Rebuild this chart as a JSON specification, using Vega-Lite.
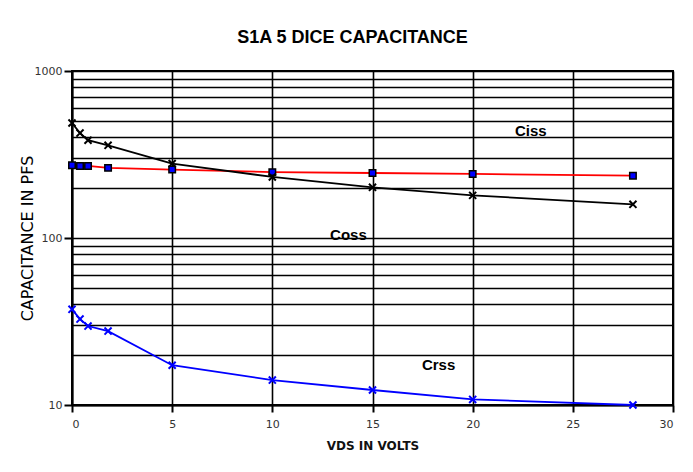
{
  "$schema": "https://vega.github.io/schema/vega-lite/v6.json",
  "width": 601,
  "height": 334,
  "autosize": {"type": "none"},
  "padding": {"left": 72, "top": 71, "right": 20, "bottom": 67},
  "background": "white",
  "title": {
    "text": "S1A 5 DICE CAPACITANCE",
    "font": "Liberation Sans",
    "fontSize": 18,
    "fontWeight": "bold",
    "color": "#000000",
    "anchor": "middle",
    "dx": -20,
    "offset": 18
  },
  "config": {
    "view": {"stroke": "#000000", "strokeWidth": 2},
    "axis": {
      "labelFont": "DejaVu Sans",
      "labelFontSize": 11,
      "labelColor": "#333333",
      "domainColor": "#000000",
      "domainWidth": 2,
      "tickColor": "#000000",
      "tickWidth": 2,
      "gridColor": "#000000",
      "gridWidth": 1.6,
      "gridOpacity": 1
    }
  },
  "datasets": {
    "caps": [
      {"series": "Ciss", "vds": 0, "pf": 273},
      {"series": "Ciss", "vds": 0.4, "pf": 270},
      {"series": "Ciss", "vds": 0.8, "pf": 270},
      {"series": "Ciss", "vds": 1.8, "pf": 263},
      {"series": "Ciss", "vds": 5, "pf": 257},
      {"series": "Ciss", "vds": 10, "pf": 248},
      {"series": "Ciss", "vds": 15, "pf": 245},
      {"series": "Ciss", "vds": 20, "pf": 242},
      {"series": "Ciss", "vds": 28, "pf": 236},
      {"series": "Coss", "vds": 0, "pf": 488},
      {"series": "Coss", "vds": 0.4, "pf": 425},
      {"series": "Coss", "vds": 0.8, "pf": 385},
      {"series": "Coss", "vds": 1.8, "pf": 359},
      {"series": "Coss", "vds": 5, "pf": 279},
      {"series": "Coss", "vds": 10, "pf": 232},
      {"series": "Coss", "vds": 15, "pf": 201},
      {"series": "Coss", "vds": 20, "pf": 180},
      {"series": "Coss", "vds": 28, "pf": 159},
      {"series": "Crss", "vds": 0, "pf": 37.4},
      {"series": "Crss", "vds": 0.4, "pf": 32.7},
      {"series": "Crss", "vds": 0.8, "pf": 29.7},
      {"series": "Crss", "vds": 1.8, "pf": 27.7},
      {"series": "Crss", "vds": 5, "pf": 17.3},
      {"series": "Crss", "vds": 10, "pf": 14.1},
      {"series": "Crss", "vds": 15, "pf": 12.3},
      {"series": "Crss", "vds": 20, "pf": 10.8},
      {"series": "Crss", "vds": 28, "pf": 10.0}
    ],
    "labels": [
      {"label": "Ciss", "vds": 22.9, "pf": 437},
      {"label": "Coss", "vds": 13.8, "pf": 104},
      {"label": "Crss", "vds": 18.3, "pf": 17.3}
    ]
  },
  "layer": [
    {
      "data": {"name": "caps"},
      "mark": {"type": "line", "strokeWidth": 1.8},
      "encoding": {
        "x": {
          "field": "vds", "type": "quantitative",
          "scale": {"domain": [0, 30], "nice": false},
          "axis": {
            "values": [0, 5, 10, 15, 20, 25, 30],
            "grid": true,
            "tickSize": 7,
            "labelPadding": 6,
            "title": "VDS IN VOLTS",
            "titleFont": "DejaVu Sans",
            "titleFontSize": 12,
            "titleFontWeight": "bold",
            "titleColor": "#111111",
            "titlePadding": 11
          }
        },
        "y": {
          "field": "pf", "type": "quantitative",
          "scale": {"type": "log", "domain": [10, 1000], "nice": false},
          "axis": {
            "values": [10, 20, 30, 40, 50, 60, 70, 80, 90, 100, 200, 300, 400, 500, 600, 700, 800, 900, 1000],
            "grid": true,
            "tickSize": 8,
            "labelPadding": 2,
            "labelExpr": "(datum.value == 10 || datum.value == 100 || datum.value == 1000) ? format(datum.value, 'd') : ''",
            "tickOpacity": {"condition": {"test": "datum.value == 10 || datum.value == 100 || datum.value == 1000", "value": 1}, "value": 0},
            "title": "CAPACITANCE IN PFS",
            "titleFont": "DejaVu Sans",
            "titleFontSize": 16,
            "titleFontWeight": "normal",
            "titleColor": "#000000",
            "titlePadding": -1
          }
        },
        "color": {
          "field": "series", "type": "nominal",
          "scale": {"domain": ["Ciss", "Coss", "Crss"], "range": ["#ff0000", "#000000", "#0000ff"]},
          "legend": null
        }
      }
    },
    {
      "data": {"name": "caps"},
      "transform": [{"filter": "datum.series == 'Ciss'"}],
      "mark": {"type": "point", "shape": "square", "filled": true, "fill": "#0000ff", "stroke": "#000000", "strokeWidth": 1.5, "size": 42, "opacity": 1},
      "encoding": {
        "x": {"field": "vds", "type": "quantitative"},
        "y": {"field": "pf", "type": "quantitative"}
      }
    },
    {
      "data": {"name": "caps"},
      "transform": [{"filter": "datum.series != 'Ciss'"}],
      "mark": {"type": "point", "shape": "M-1,-1L1,1M-1,1L1,-1", "filled": false, "strokeWidth": 2, "size": 50, "opacity": 1},
      "encoding": {
        "x": {"field": "vds", "type": "quantitative"},
        "y": {"field": "pf", "type": "quantitative"},
        "stroke": {
          "field": "series", "type": "nominal",
          "scale": {"domain": ["Coss", "Crss"], "range": ["#000000", "#0000ff"]},
          "legend": null
        }
      }
    },
    {
      "data": {"name": "labels"},
      "mark": {"type": "text", "font": "Liberation Sans", "fontSize": 15, "fontWeight": "bold", "color": "#000000", "align": "center", "baseline": "middle"},
      "encoding": {
        "x": {"field": "vds", "type": "quantitative"},
        "y": {"field": "pf", "type": "quantitative"},
        "text": {"field": "label"}
      }
    }
  ]
}
